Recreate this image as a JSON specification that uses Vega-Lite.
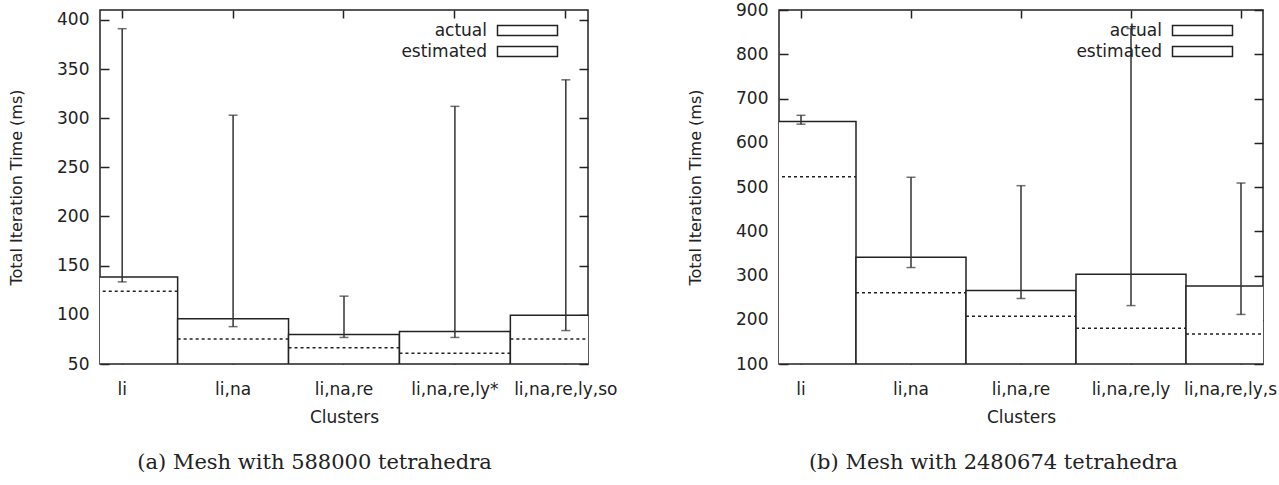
{
  "$schema": "https://vega.github.io/schema/vega-lite/v6.json",
  "background": "white",
  "padding": {"left": 7, "top": 0, "right": 0, "bottom": 0},
  "datasets": {
    "meshA": [
      {"cluster": "li", "actual": 138.5, "estimated": 124, "low": 133.5, "high": 391},
      {"cluster": "li,na", "actual": 96, "estimated": 75.5, "low": 88, "high": 303},
      {"cluster": "li,na,re", "actual": 80, "estimated": 66.5, "low": 77, "high": 119},
      {"cluster": "li,na,re,ly*", "actual": 83, "estimated": 61, "low": 77, "high": 312},
      {"cluster": "li,na,re,ly,so", "actual": 99.5, "estimated": 75.5, "low": 84, "high": 339}
    ],
    "meshB": [
      {"cluster": "li", "actual": 648, "estimated": 523, "low": 642, "high": 662},
      {"cluster": "li,na", "actual": 341, "estimated": 261, "low": 318, "high": 522},
      {"cluster": "li,na,re", "actual": 266, "estimated": 208, "low": 248, "high": 503},
      {"cluster": "li,na,re,ly", "actual": 303, "estimated": 181, "low": 232, "high": 858},
      {"cluster": "li,na,re,ly,s", "actual": 276, "estimated": 168, "low": 212, "high": 509}
    ]
  },
  "spacing": 191,
  "bounds": "flush",
  "hconcat": [
    {
      "width": 488,
      "height": 354,
      "data": {"name": "meshA"},
      "title": {"text": "(a) Mesh with 588000 tetrahedra", "orient": "bottom", "anchor": "middle", "frame": "bounds", "offset": 27, "dx": -17},
      "layer": [
        {
          "mark": {"type": "bar", "fill": "white", "strokeWidth": 1.5, "clip": true},
          "encoding": {
            "x": {"field": "cluster", "type": "nominal", "sort": null,
                  "scale": {"paddingInner": 0, "paddingOuter": 0, "range": [-33.27, 521.27]},
                  "axis": {"orient": "bottom", "title": "Clusters", "labelAngle": 0, "offset": -8, "tickSize": 8, "labelPadding": 17, "titlePadding": 12}},
            "y": {"field": "actual", "type": "quantitative",
                  "scale": {"domain": [50, 410], "zero": false, "nice": false},
                  "axis": {"orient": "left", "title": "Total Iteration Time (ms)", "values": [50, 100, 150, 200, 250, 300, 350, 400], "offset": -9, "tickSize": 9, "labelPadding": 11, "titlePadding": 32}},
            "y2": {"datum": 50},
            "stroke": {"datum": "actual", "type": "nominal",
                  "scale": {"domain": ["actual", "estimated"], "range": ["#222", "#222"]},
                  "legend": {"title": null, "orient": "top-right", "offset": 12,
                             "symbolType": "M-6,-1H6V1H-6ZM9,0", "symbolSize": 100, "symbolOffset": 48,
                             "labelAlign": "right", "labelOffset": -49,
                             "symbolFillColor": "white", "symbolStrokeWidth": 1.5, "symbolOpacity": 1,
                             "encode": {"symbols": {"strokeDash": [{"test": "datum.value === 'estimated'", "value": [3, 3]}, {"value": [1, 0]}], "fill": {"value": "white"}}}}}
          }
        },
        {
          "mark": {"type": "rule", "strokeWidth": 1.5, "strokeDash": [3, 3], "clip": true},
          "encoding": {
            "x": {"field": "cluster", "type": "nominal", "sort": null, "bandPosition": 0,
                  "axis": {"orient": "top", "title": null, "labels": false, "offset": -8, "tickSize": 8}},
            "x2": {"field": "cluster", "bandPosition": 1},
            "y": {"field": "estimated", "type": "quantitative",
                  "axis": {"orient": "right", "title": null, "labels": false, "values": [50, 100, 150, 200, 250, 300, 350, 400], "offset": -9, "tickSize": 9}},
            "stroke": {"datum": "estimated", "type": "nominal"}
          }
        },
        {
          "mark": {"type": "rule", "stroke": "#333", "strokeWidth": 1.5, "clip": true},
          "encoding": {
            "x": {"field": "cluster", "type": "nominal", "sort": null, "axis": null},
            "y": {"field": "low", "type": "quantitative", "axis": null},
            "y2": {"field": "high"}
          }
        },
        {
          "mark": {"type": "tick", "orient": "horizontal", "size": 9, "thickness": 1.5, "color": "#333", "clip": true},
          "encoding": {
            "x": {"field": "cluster", "type": "nominal", "sort": null, "axis": null},
            "y": {"field": "low", "type": "quantitative", "axis": null}
          }
        },
        {
          "mark": {"type": "tick", "orient": "horizontal", "size": 9, "thickness": 1.5, "color": "#333", "clip": true},
          "encoding": {
            "x": {"field": "cluster", "type": "nominal", "sort": null, "axis": null},
            "y": {"field": "high", "type": "quantitative", "axis": null}
          }
        }
      ],
      "resolve": {"axis": {"x": "independent", "y": "independent"}}
    },
    {
      "width": 484,
      "height": 354,
      "data": {"name": "meshB"},
      "title": {"text": "(b) Mesh with 2480674 tetrahedra", "orient": "bottom", "anchor": "middle", "frame": "bounds", "offset": 27, "dx": -15},
      "layer": [
        {
          "mark": {"type": "bar", "fill": "white", "strokeWidth": 1.5, "clip": true},
          "encoding": {
            "x": {"field": "cluster", "type": "nominal", "sort": null,
                  "scale": {"paddingInner": 0, "paddingOuter": 0, "range": [-33, 517]},
                  "axis": {"orient": "bottom", "title": "Clusters", "labelAngle": 0, "offset": -8, "tickSize": 8, "labelPadding": 17, "titlePadding": 12,
                           "labelAlign": {"condition": {"test": "datum.label == 'li,na,re,ly,s'", "value": "right"}, "value": "center"},
                           "labelOffset": {"condition": {"test": "datum.label == 'li,na,re,ly,s'", "value": 36}, "value": 0}}},
            "y": {"field": "actual", "type": "quantitative",
                  "scale": {"domain": [100, 900], "zero": false, "nice": false},
                  "axis": {"orient": "left", "title": "Total Iteration Time (ms)", "values": [100, 200, 300, 400, 500, 600, 700, 800, 900], "offset": -9, "tickSize": 9, "labelPadding": 11, "titlePadding": 32}},
            "y2": {"datum": 100},
            "stroke": {"datum": "actual", "type": "nominal",
                  "scale": {"domain": ["actual", "estimated"], "range": ["#222", "#222"]},
                  "legend": {"title": null, "orient": "top-right", "offset": 12,
                             "symbolType": "M-6,-1H6V1H-6ZM9,0", "symbolSize": 100, "symbolOffset": 48,
                             "labelAlign": "right", "labelOffset": -49,
                             "symbolFillColor": "white", "symbolStrokeWidth": 1.5, "symbolOpacity": 1,
                             "encode": {"symbols": {"strokeDash": [{"test": "datum.value === 'estimated'", "value": [3, 3]}, {"value": [1, 0]}], "fill": {"value": "white"}}}}}
          }
        },
        {
          "mark": {"type": "rule", "strokeWidth": 1.5, "strokeDash": [3, 3], "clip": true},
          "encoding": {
            "x": {"field": "cluster", "type": "nominal", "sort": null, "bandPosition": 0,
                  "axis": {"orient": "top", "title": null, "labels": false, "offset": -8, "tickSize": 8}},
            "x2": {"field": "cluster", "bandPosition": 1},
            "y": {"field": "estimated", "type": "quantitative",
                  "axis": {"orient": "right", "title": null, "labels": false, "values": [100, 200, 300, 400, 500, 600, 700, 800, 900], "offset": -9, "tickSize": 9}},
            "stroke": {"datum": "estimated", "type": "nominal"}
          }
        },
        {
          "mark": {"type": "rule", "stroke": "#333", "strokeWidth": 1.5, "clip": true},
          "encoding": {
            "x": {"field": "cluster", "type": "nominal", "sort": null, "axis": null},
            "y": {"field": "low", "type": "quantitative", "axis": null},
            "y2": {"field": "high"}
          }
        },
        {
          "mark": {"type": "tick", "orient": "horizontal", "size": 9, "thickness": 1.5, "color": "#333", "clip": true},
          "encoding": {
            "x": {"field": "cluster", "type": "nominal", "sort": null, "axis": null},
            "y": {"field": "low", "type": "quantitative", "axis": null}
          }
        },
        {
          "mark": {"type": "tick", "orient": "horizontal", "size": 9, "thickness": 1.5, "color": "#333", "clip": true},
          "encoding": {
            "x": {"field": "cluster", "type": "nominal", "sort": null, "axis": null},
            "y": {"field": "high", "type": "quantitative", "axis": null}
          }
        }
      ],
      "resolve": {"axis": {"x": "independent", "y": "independent"}}
    }
  ],
  "resolve": {"scale": {"stroke": "independent"}, "legend": {"stroke": "independent"}},
  "config": {
    "view": {"stroke": "#222", "strokeWidth": 1.5},
    "axis": {"labelFont": "DejaVu Sans", "labelFontSize": 17, "labelColor": "#222",
             "titleFont": "DejaVu Sans", "titleFontSize": 17, "titleFontWeight": "normal", "titleColor": "#222",
             "tickColor": "#222", "tickWidth": 1.5, "grid": false, "domain": false},
    "axisY": {"titleFontSize": 16},
    "legend": {"labelFont": "DejaVu Sans", "labelFontSize": 17, "labelColor": "#222",
               "rowPadding": 3, "padding": 0},
    "title": {"font": "DejaVu Serif", "fontSize": 21, "fontWeight": "normal", "color": "#222"}
  }
}
